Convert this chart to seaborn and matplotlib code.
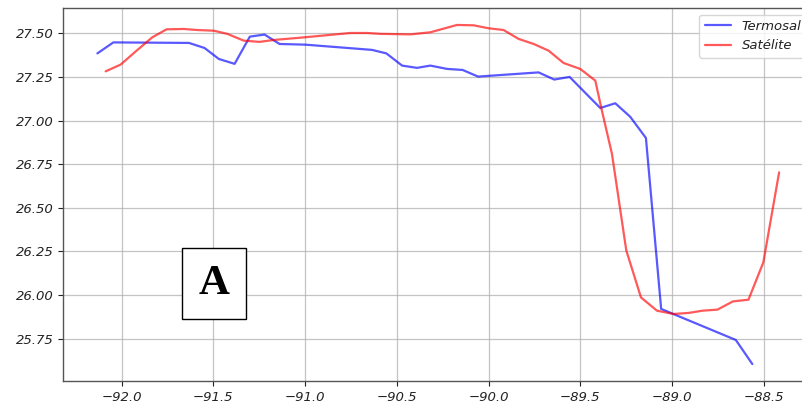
import matplotlib
matplotlib.use("Agg")
import matplotlib.pyplot as plt
import seaborn as sns
import pandas as pd

# Termosal (blue) track
termosal_lon = [-92.132, -92.045, -91.633, -91.548, -91.470, -91.384, -91.301, -91.221,
                -91.139, -90.998, -90.635, -90.557, -90.471, -90.390, -90.317, -90.226,
                -90.141, -90.057, -89.727, -89.642, -89.558, -89.391, -89.309, -89.228,
                -89.142, -89.059, -88.652, -88.562]
termosal_lat = [27.385, 27.448, 27.445, 27.416, 27.353, 27.325, 27.481, 27.493,
                27.439, 27.435, 27.405, 27.385, 27.315, 27.302, 27.315, 27.296,
                27.290, 27.252, 27.276, 27.235, 27.250, 27.072, 27.099, 27.022,
                26.900, 25.920, 25.742, 25.604]

# Satélite (red) track
satelite_lon = [-92.087, -92.005, -91.918, -91.833, -91.755, -91.661, -91.588, -91.497,
                -91.424, -91.334, -91.248, -91.170, -91.025, -90.753, -90.662, -90.589,
                -90.426, -90.317, -90.172, -90.081, -90.000, -89.918, -89.836, -89.754,
                -89.673, -89.591, -89.500, -89.418, -89.382, -89.327, -89.249, -89.169,
                -89.082, -88.992, -88.910, -88.832, -88.752, -88.668, -88.583, -88.502,
                -88.416]
satelite_lat = [27.282, 27.321, 27.401, 27.477, 27.523, 27.525, 27.519, 27.515,
                27.497, 27.458, 27.451, 27.462, 27.475, 27.502, 27.502, 27.497,
                27.494, 27.506, 27.548, 27.546, 27.529, 27.519, 27.468, 27.439,
                27.401, 27.330, 27.296, 27.229, 27.057, 26.808, 26.255, 25.986,
                25.910, 25.891, 25.897, 25.910, 25.916, 25.963, 25.973, 26.187,
                26.703]

series_names = ["Termosal", "Satélite"]
panel_label = "A"

df = pd.concat([
    pd.DataFrame({"lon": termosal_lon, "lat": termosal_lat, "serie": series_names[0]}),
    pd.DataFrame({"lon": satelite_lon, "lat": satelite_lat, "serie": series_names[1]}),
], ignore_index=True)

sns.set_style("ticks")
plt.rcParams["font.family"] = ["DejaVu Sans"]

W, H = 802, 404
fig = plt.figure(figsize=(W / 100, H / 100), dpi=100)
left, right, top, bottom = 63.3, 813.2, 8.0, 381.0
ax = fig.add_axes([left / W, 1 - bottom / H, (right - left) / W, (bottom - top) / H])

sns.lineplot(data=df, x="lon", y="lat", hue="serie", sort=False, estimator=None,
             palette={series_names[0]: "blue", series_names[1]: "red"},
             alpha=0.65, linewidth=1.6, ax=ax)

ax.grid(True, color="#b0b0b0", linewidth=0.9, alpha=0.75)
ax.set_axisbelow(True)
ax.margins(x=0.05, y=0.05)
ax.set_xlabel("")
ax.set_ylabel("")
for s in ax.spines.values():
    s.set_color("#555555")
    s.set_linewidth(1.0)
ax.tick_params(axis="both", length=3.5, width=0.8, colors="#222222", labelsize=9.5)
for lab in ax.get_xticklabels() + ax.get_yticklabels():
    lab.set_fontstyle("italic")

leg = ax.legend(loc="upper right", fontsize=9.5, frameon=True, framealpha=0.8,
                edgecolor="#cccccc", fancybox=True)
for t in leg.get_texts():
    t.set_fontstyle("italic")
    t.set_color("#222222")
for l in leg.get_lines():
    l.set_linewidth(1.6)
    l.set_alpha(0.65)

fig.text(213.8 / W, 1 - 283.8 / H, panel_label, ha="center", va="center",
         fontsize=31, fontweight="bold", family="Liberation Serif", color="black",
         bbox=dict(boxstyle="square,pad=0.38", facecolor="white",
                   edgecolor="black", linewidth=1.0))

fig.savefig("out.png", dpi=100)
